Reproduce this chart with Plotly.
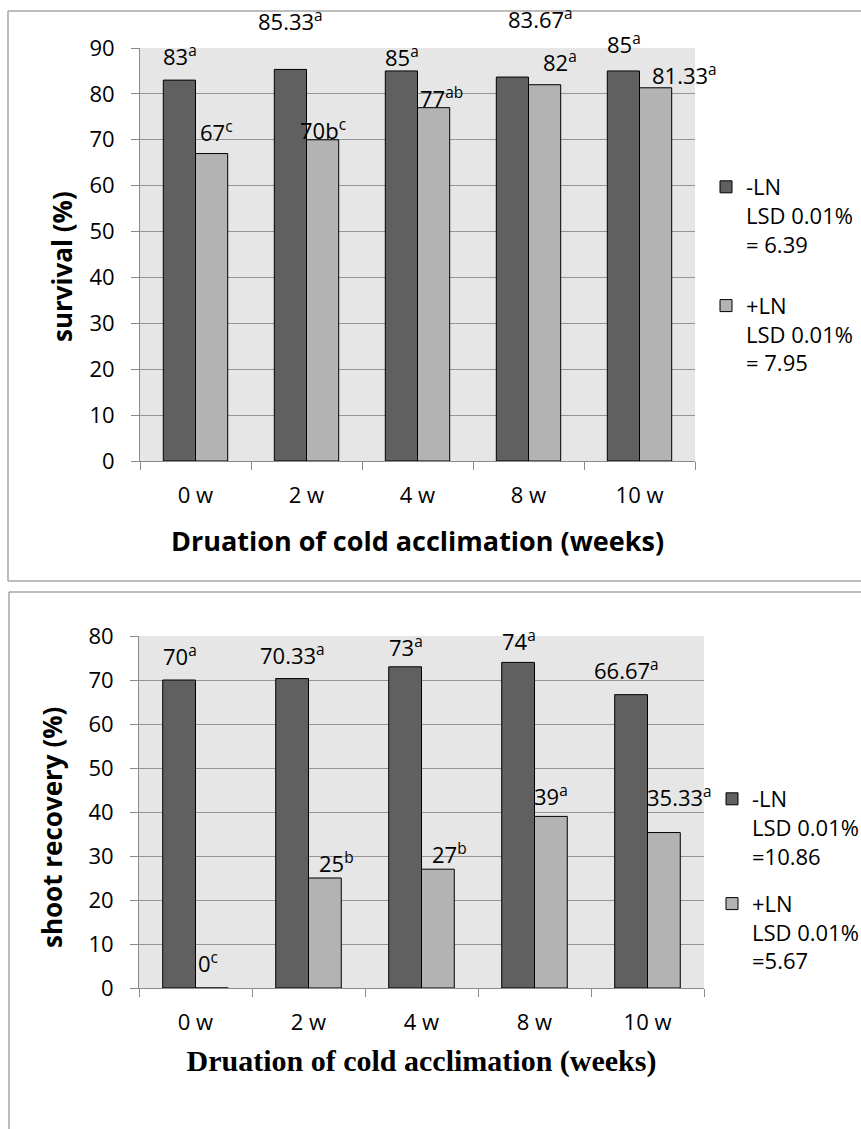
import plotly.graph_objects as go

# ---------------- data ----------------
categories = ["0 w", "2 w", "4 w", "8 w", "10 w"]

survival_minus_ln = [83, 85.33, 85, 83.67, 85]
survival_plus_ln = [67, 70, 77, 82, 81.33]
survival_minus_labels = ["83<sup>a</sup>", "85.33<sup>a</sup>", "85<sup>a</sup>", "83.67<sup>a</sup>", "85<sup>a</sup>"]
survival_plus_labels = ["67<sup>c</sup>", "70b<sup>c</sup>", "77<sup>ab</sup>", "82<sup>a</sup>", "81.33<sup>a</sup>"]

recovery_minus_ln = [70, 70.33, 73, 74, 66.67]
recovery_plus_ln = [0, 25, 27, 39, 35.33]
recovery_minus_labels = ["70<sup>a</sup>", "70.33<sup>a</sup>", "73<sup>a</sup>", "74<sup>a</sup>", "66.67<sup>a</sup>"]
recovery_plus_labels = ["0<sup>c</sup>", "25<sup>b</sup>", "27<sup>b</sup>", "39<sup>a</sup>", "35.33<sup>a</sup>"]

legend_top = ["-LN<br>LSD 0.01%<br>= 6.39", "+LN<br>LSD 0.01%<br>= 7.95"]
legend_bottom = ["-LN<br>LSD 0.01%<br>=10.86", "+LN<br>LSD 0.01%<br>=5.67"]

x_title = "Druation of cold acclimation (weeks)"
y_title_top = "survival (%)"
y_title_bottom = "shoot recovery (%)"

# ---------------- styles ----------------
W, H = 861, 1129
DARK = "#606060"
LIGHT = "#b3b3b3"
GRID = "#959595"
AXIS = "#8a8a8a"
BG = "#e6e6e6"
SANS = "Open Sans"
SERIF = "Liberation Serif"

# label placement (pixel offsets above bar top / sideways), style only
top_dark_dy = [25, 49, 14, 59, 27]
top_light_dy = [22, 10, 10, 23, 13]
top_dark_dx = [0, 0, 0, 28, 0]
top_light_dx = [5, 0, 8, 15, 29]
bot_dark_dy = [25, 24, 20, 22, 25]
bot_light_dy = [26, 16, 16, 21, 36]
bot_dark_dx = [0, 0, 0, 0, -5]
bot_light_dx = [-4, 12, 12, 0, 16]


def px_x(x):
    return x / W


def px_y(y):
    return 1 - y / H


fig = go.Figure()

bar_line = dict(color="black", width=1)

fig.add_trace(go.Bar(x=categories, y=survival_minus_ln, name=legend_top[0],
                     marker=dict(color=DARK, line=bar_line),
                     xaxis="x", yaxis="y", legend="legend", legendgroup="t1"))
fig.add_trace(go.Bar(x=categories, y=survival_plus_ln, name=legend_top[1],
                     marker=dict(color=LIGHT, line=bar_line),
                     xaxis="x", yaxis="y", legend="legend", legendgroup="t2"))
fig.add_trace(go.Bar(x=categories, y=recovery_minus_ln, name=legend_bottom[0],
                     marker=dict(color=DARK, line=bar_line),
                     xaxis="x2", yaxis="y2", legend="legend2", legendgroup="b1"))
fig.add_trace(go.Bar(x=categories, y=recovery_plus_ln, name=legend_bottom[1],
                     marker=dict(color=LIGHT, line=bar_line),
                     xaxis="x2", yaxis="y2", legend="legend2", legendgroup="b2"))

annotations = []


def add_labels(vals, labels, dys, dxs, side, xref, yref):
    for c, v, t, dy, dx in zip(categories, vals, labels, dys, dxs):
        annotations.append(dict(
            x=c, y=v, xref=xref, yref=yref, text=t, showarrow=False,
            xanchor="center", yanchor="middle",
            xshift=side * 16 + dx, yshift=dy,
            font=dict(family=SANS, size=22, color="black")))


add_labels(survival_minus_ln, survival_minus_labels, top_dark_dy, top_dark_dx, -1, "x", "y")
add_labels(survival_plus_ln, survival_plus_labels, top_light_dy, top_light_dx, 1, "x", "y")
add_labels(recovery_minus_ln, recovery_minus_labels, bot_dark_dy, bot_dark_dx, -1, "x2", "y2")
add_labels(recovery_plus_ln, recovery_plus_labels, bot_light_dy, bot_light_dx, 1, "x2", "y2")

# rotated y-axis titles
annotations.append(dict(x=px_x(62), y=px_y(267), xref="paper", yref="paper",
                        text=f"<b>{y_title_top}</b>", textangle=-90, showarrow=False,
                        xanchor="center", yanchor="middle",
                        font=dict(family=SANS, size=26, color="black")))
annotations.append(dict(x=px_x(52), y=px_y(828), xref="paper", yref="paper",
                        text=f"<b>{y_title_bottom}</b>", textangle=-90, showarrow=False,
                        xanchor="center", yanchor="middle",
                        font=dict(family=SANS, size=26, color="black")))

# frame lines around the two chart boxes
BOX = "#a6a6a6"
shapes = []
for (x0, y0, x1, y1) in [
    (8, 11, 861, 11), (8, 11, 8, 581), (8, 581, 861, 581),
    (9, 592, 861, 592), (9, 592, 9, 1129),
]:
    shapes.append(dict(type="line", xref="paper", yref="paper",
                       x0=px_x(x0), y0=px_y(y0), x1=px_x(x1), y1=px_y(y1),
                       line=dict(color=BOX, width=1.5)))

xaxis_common = dict(
    type="category", range=[-0.5, len(categories) - 0.5], autorange=False,
    tickson="boundaries", ticks="outside", ticklen=8,
    tickcolor=AXIS, showline=True, linecolor=AXIS, linewidth=1, showgrid=False,
    tickfont=dict(family=SANS, size=22, color="black"), ticklabelstandoff=15,
    automargin=False,
)
yaxis_common = dict(
    dtick=10, ticks="outside", ticklen=8, tickcolor=AXIS, showline=True,
    linecolor=AXIS, linewidth=1, showgrid=True, gridcolor=GRID, gridwidth=1,
    zeroline=False, tickfont=dict(family=SANS, size=22, color="black"),
    ticklabelstandoff=12, automargin=False,
)

fig.update_layout(
    width=W, height=H, margin=dict(l=0, r=0, t=0, b=0, autoexpand=False),
    paper_bgcolor="white", plot_bgcolor=BG,
    barmode="group", bargap=0.42, bargroupgap=0,
    font=dict(family=SANS, color="black"),
    xaxis=dict(domain=[px_x(140), px_x(695)], anchor="y",
               title=dict(text=f"<b>{x_title}</b>",
                          font=dict(family=SANS, size=27), standoff=23),
               **xaxis_common),
    yaxis=dict(domain=[px_y(461), px_y(48)], anchor="x", range=[0, 90],
               **yaxis_common),
    xaxis2=dict(domain=[px_x(139), px_x(704)], anchor="y2",
                title=dict(text=f"<b>{x_title}</b>",
                           font=dict(family=SERIF, size=30), standoff=14),
                **xaxis_common),
    yaxis2=dict(domain=[px_y(988), px_y(636)], anchor="x2", range=[0, 80],
                **yaxis_common),
    legend=dict(x=px_x(706), y=px_y(166), xanchor="left", yanchor="top",
                valign="top", font=dict(family=SANS, size=22),
                tracegroupgap=30, bgcolor="rgba(0,0,0,0)"),
    legend2=dict(x=px_x(712), y=px_y(778), xanchor="left", yanchor="top",
                 valign="top", font=dict(family=SANS, size=22),
                 tracegroupgap=16, bgcolor="rgba(0,0,0,0)"),
    annotations=annotations,
    shapes=shapes,
)

fig.write_html(
    "out.html",
    config={"displayModeBar": False},
    post_script="document.body.style.margin='0px';document.body.style.overflow='hidden';",
)
